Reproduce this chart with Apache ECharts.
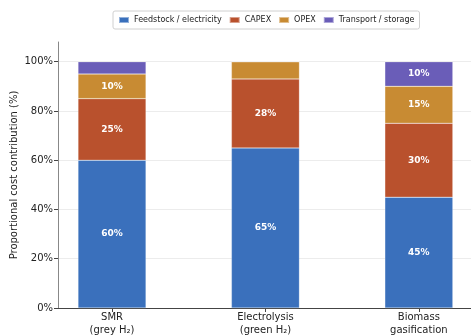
<!DOCTYPE html>
<html><head><meta charset="utf-8">
<script src="https://cdn.jsdelivr.net/npm/echarts@6/dist/echarts.min.js"></script>
<style>html,body{margin:0;padding:0;background:#fff}#c{width:471px;height:336px}</style>
</head><body><div id="c"></div>
<script>
const categories = ['SMR\n(grey H\u2082)', 'Electrolysis\n(green H\u2082)', 'Biomass\ngasification'];
const seriesNames = ['Feedstock / electricity', 'CAPEX', 'OPEX', 'Transport / storage'];
const feedstock = [60, 65, 45];
const capex = [25, 28, 30];
const opex = [10, 7, 15];
const transport = [5, 0, 10];
const yTicks = [0, 20, 40, 60, 80, 100];
const colors = ['#3a70bc', '#b9512d', '#c88b33', '#6a5db8'];

const values = [feedstock, capex, opex, transport];
const chart = echarts.init(document.getElementById('c'), null, {renderer: 'canvas'});
const font = 'DejaVu Sans';
chart.setOption({
  animation: false,
  textStyle: {fontFamily: font},
  legend: {
    left: 113, top: 11,
    icon: 'rect',
    itemWidth: 10, itemHeight: 6, itemGap: 7,
    padding: [5, 5],
    borderColor: '#d0d0d0', borderWidth: 1, borderRadius: 2,
    textStyle: {fontFamily: font, fontSize: 8, color: '#222'},
    data: seriesNames
  },
  grid: {left: 58, right: 0, top: 42, bottom: 28, containLabel: false, outerBoundsMode: 'none'},
  xAxis: {
    type: 'value', min: -0.352, max: 2.34,
    splitLine: {show: false},
    axisLine: {show: true, onZero: false, lineStyle: {color: '#444', width: 1}},
    axisTick: {show: true, length: 4, lineStyle: {color: '#444'}, customValues: [0, 1, 2]},
    axisLabel: {
      customValues: [0, 1, 2],
      fontFamily: font, fontSize: 10, color: '#222', lineHeight: 13, margin: 3,
      formatter: v => categories[Math.round(v)] || ''
    }
  },
  yAxis: {
    type: 'value', min: 0, max: 108,
    name: 'Proportional cost contribution (%)', nameLocation: 'middle', nameGap: 39,
    nameMoveOverlap: false,
    nameTextStyle: {fontFamily: font, fontSize: 10, color: '#222'},
    axisLine: {show: true, onZero: false, lineStyle: {color: '#888', width: 1}},
    axisTick: {show: true, length: 4, lineStyle: {color: '#444'}, customValues: yTicks},
    axisLabel: {customValues: yTicks, fontFamily: font, fontSize: 10, color: '#222', margin: 5, formatter: v => v + '%'},
    splitLine: {show: true, lineStyle: {color: '#ececec', width: 1}}
  },
  series: seriesNames.map((name, i) => ({
    name, type: 'bar', stack: 'total', barWidth: 68,
    encode: {x: 1, y: 0},
    itemStyle: {color: colors[i], borderColor: 'rgba(255,255,255,0.45)', borderWidth: 0.5},
    label: {
      show: true, position: 'inside', color: '#fff', fontWeight: 'bold', fontSize: 9, fontFamily: font,
      formatter: p => (p.value[0] >= 10 ? p.value[0] + '%' : '')
    },
    data: values[i].map((v, j) => [v, j])
  }))
});
</script></body></html>
